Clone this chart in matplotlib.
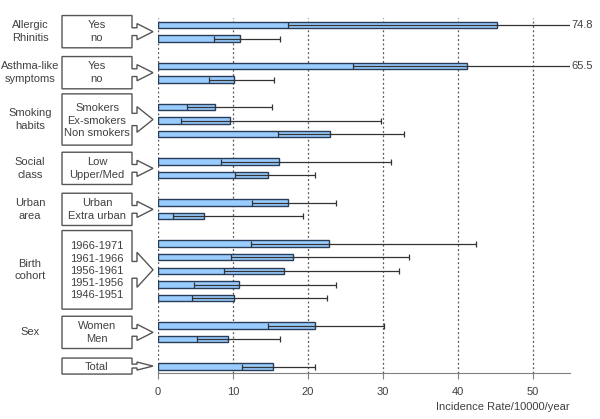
import numpy as np
import matplotlib.pyplot as plt
from matplotlib.patches import Polygon

plt.rcParams['font.family'] = ['Liberation Sans', 'DejaVu Sans']

# groups and their categories (top to bottom)
groups = ["Allergic\nRhinitis", "Asthma-like\nsymptoms", "Smoking\nhabits", "Social\nclass",
          "Urban\narea", "Birth\ncohort", "Sex", ""]
categories = [["Yes", "no"], ["Yes", "no"], ["Smokers", "Ex-smokers", "Non smokers"],
              ["Low", "Upper/Med"], ["Urban", "Extra urban"],
              ["1966-1971", "1961-1966", "1956-1961", "1951-1956", "1946-1951"],
              ["Women", "Men"], ["Total"]]

# incidence rate and 95% CI, per 10000/year
rate = [45.2, 11.0, 41.3, 10.2, 7.6, 9.6, 22.9, 16.2, 14.7, 17.4, 6.2,
        22.8, 18.0, 16.8, 10.8, 10.2, 21.0, 9.3, 15.4]
lower = [17.4, 7.5, 26.0, 6.8, 3.9, 3.1, 16.0, 8.4, 10.3, 12.6, 2.0,
         12.4, 9.7, 8.8, 4.8, 4.6, 14.7, 5.2, 11.2]
upper = [74.8, 16.3, 65.5, 15.5, 15.2, 29.8, 32.8, 31.1, 20.9, 23.7, 19.3,
         42.4, 33.5, 32.2, 23.7, 22.6, 30.2, 16.3, 20.9]

xticks = [0, 10, 20, 30, 40, 50]
xmax = 55

txt = '#404040'
fs = 8
fig = plt.figure(figsize=(6, 4.19), dpi=100)
ax = fig.add_axes([158 / 600, 1 - 372.7 / 419, 412 / 600, (372.7 - 18) / 419])

# slot positions: one per category, blank slot between groups
ypos, spans = [], []
y = 0
for cats in categories:
    start = y
    for c in cats:
        ypos.append(y)
        y += 1
    spans.append((start, y - 1))
    y += 1

rate = np.array(rate); lower = np.array(lower); upper = np.array(upper)
ypos = np.array(ypos)

for gx in xticks:
    ax.axvline(gx, color='#555555', ls=(0, (1.5, 2)), lw=0.9, zorder=0)

ax.barh(ypos, rate, height=0.48, color='#99ccff', edgecolor='#2a3d57', lw=1, zorder=2)
ax.errorbar(rate, ypos, xerr=[rate - lower, upper - rate], fmt='none', ecolor='#333333',
            elinewidth=0.9, capsize=2.2, capthick=0.9, zorder=3)

for r, u, yy in zip(rate, upper, ypos):
    if u > xmax:
        ax.text(xmax + 0.2, yy, f"{u:.1f}", va='center', ha='left', fontsize=fs,
                color=txt, clip_on=False)

ax.set_xlim(0, xmax)
ax.set_ylim(25.45, -0.5)
ax.set_yticks([])
for s in ['left', 'right', 'top']:
    ax.spines[s].set_visible(False)
ax.spines['bottom'].set_color('#808080')
ax.set_xticks(xticks)
ax.tick_params(axis='x', colors='#808080', labelcolor=txt, labelsize=fs, length=4, pad=6)
ax.set_xlabel("Incidence Rate/10000/year", fontsize=fs, color=txt)
ax.xaxis.set_label_coords(1.0, -0.082)
ax.xaxis.label.set_ha('right')

# conversions px -> data units
pxx = 412 / xmax
pxy = (372.7 - 18) / 25.95

def dx(px):
    return (px - 158) / pxx

# left-side callout boxes
bx0, bx1 = dx(62), dx(132)
for g, cats, (a, b) in zip(groups, categories, spans):
    pad_t = 0.95 if len(cats) >= 3 else 0.68
    pad_b = 0.8 if len(cats) >= 3 else 0.68
    if len(cats) == 1:
        pad_t, pad_b = 0.62, 0.55
    yt, yb = a - pad_t, b + pad_b
    ym = (yt + yb) / 2
    hpx = (yb - yt) * pxy
    m = min(hpx, 70)
    hs = 0.12 * m / pxy
    hh = 0.25 * m / pxy
    xs, xt = dx(137), dx(153)
    verts = [(bx0, yt), (bx1, yt), (bx1, ym - hs), (xs, ym - hs), (xs, ym - hh), (xt, ym),
             (xs, ym + hh), (xs, ym + hs), (bx1, ym + hs), (bx1, yb), (bx0, yb)]
    ax.add_patch(Polygon(verts, closed=True, facecolor='white', edgecolor='#555555',
                         lw=1, clip_on=False, zorder=1))
    n = len(cats)
    for k, c in enumerate(cats):
        cy = (a + b) / 2 + (k - (n - 1) / 2) * (0.9 if n >= 3 else 0.95)
        ax.text((bx0 + bx1) / 2, cy, c, ha='center', va='center', fontsize=fs,
                color=txt, clip_on=False)
    if g:
        ax.text(dx(30), ym, g, ha='center', va='center', fontsize=fs, color=txt,
                linespacing=1.3, clip_on=False)

fig.savefig('out.png', dpi=100)
